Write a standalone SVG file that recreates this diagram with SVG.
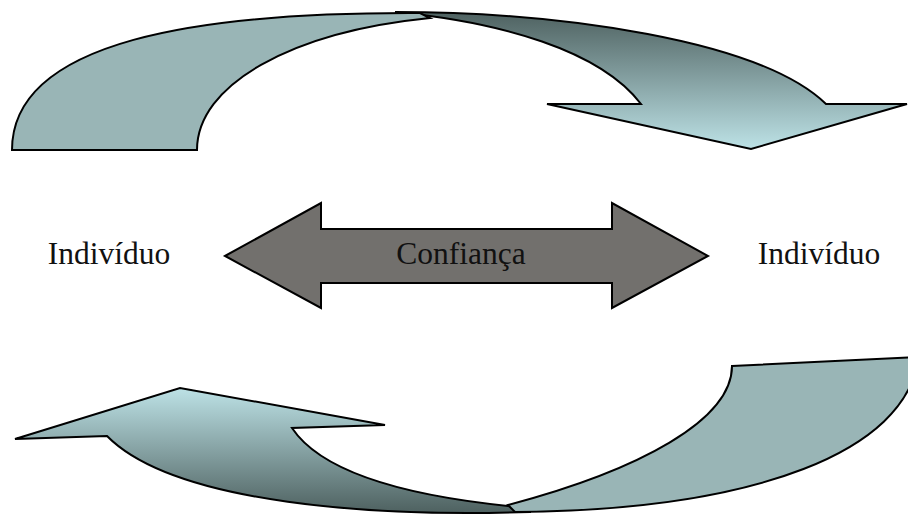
<svg xmlns="http://www.w3.org/2000/svg" width="908" height="516" viewBox="0 0 908 516">
  <style>
    .band { stroke: #000; stroke-width: 2; stroke-linejoin: miter; }
    .flat { fill: #99b5b6; }
    .lbl { font-family: "Liberation Serif", "Times New Roman", serif; font-size: 31.5px; fill: #111; }
  </style>
  <defs>
    <linearGradient id="gTop" gradientUnits="userSpaceOnUse" x1="0" y1="12" x2="0" y2="149">
      <stop offset="0" stop-color="#4e6160"/>
      <stop offset="1" stop-color="#bde2e6"/>
    </linearGradient>
    <linearGradient id="gBot" gradientUnits="userSpaceOnUse" x1="0" y1="388" x2="0" y2="513">
      <stop offset="0" stop-color="#bde2e6"/>
      <stop offset="1" stop-color="#4e6160"/>
    </linearGradient>
  </defs>

  <g id="arrow-top">
    <path class="band" fill="url(#gTop)" d="M395,12 C560,12 760,40 826,104 L907,104 L751,149 L547,104 L641,104 C600,50 500,22 395,12 Z"/>
    <path class="band flat" d="M12,150 L197,150 C197,85 290,32 430,18 L420,13 C200,12 12,40 12,150 Z"/>
  </g>

  <g id="arrow-bottom">
    <path class="band" fill="url(#gBot)" d="M107,436 L15,439 L180,388 L385,425 L292,428 C320,470 400,497 530,508 L530,512 C380,517 175,505 107,436 Z"/>
    <path class="band flat" d="M732,366 L916,357 L918,360 C905,450 760,510 515,512 L508,505 C640,470 732,420 732,366 Z"/>
  </g>

  <g id="confianca">
    <path d="M225,256 L321,203 L321,229 L612,229 L612,203 L708,256 L612,308 L612,283 L321,283 L321,308 Z" fill="#72706d" stroke="#000" stroke-width="2"/>
    <text class="lbl" x="461" y="264" text-anchor="middle">Confiança</text>
  </g>

  <g id="individuo-left">
    <text class="lbl" x="109" y="264" text-anchor="middle">Indivíduo</text>
  </g>
  <g id="individuo-right">
    <text class="lbl" x="819" y="264" text-anchor="middle">Indivíduo</text>
  </g>

  <g id="connectors"></g>
</svg>
